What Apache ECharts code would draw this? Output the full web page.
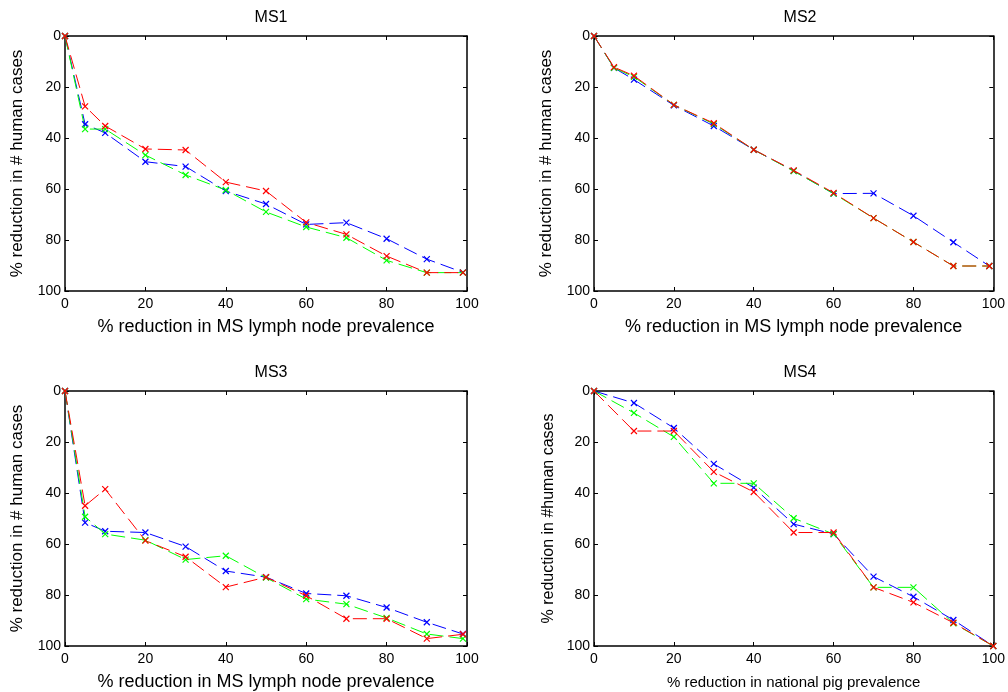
<!DOCTYPE html>
<html>
<head>
<meta charset="utf-8">
<script src="https://cdn.jsdelivr.net/npm/echarts@6/dist/echarts.min.js"></script>
<style>html,body{margin:0;padding:0;background:#fff}#c{width:1008px;height:692px}</style>
</head>
<body>
<div id="c"></div>
<script>
// x values
const xMS = [0, 5, 10, 20, 30, 40, 50, 60, 70, 80, 90, 99];
const xPig = [0, 10, 20, 30, 40, 50, 60, 70, 80, 90, 100];
const xTicks = [0, 20, 40, 60, 80, 100];
const yTicks = [0, 20, 40, 60, 80, 100];

// MS1
const ms1Blue  = [0, 34.6, 38.0, 49.3, 51.2, 60.8, 65.9, 73.9, 73.2, 79.5, 87.5, 92.7];
const ms1Green = [0, 36.5, 36.5, 46.7, 54.5, 60.4, 69.0, 74.9, 79.1, 88.0, 92.8, 92.8];
const ms1Red   = [0, 27.6, 35.3, 44.3, 44.7, 57.3, 60.8, 73.1, 77.8, 86.3, 92.8, 92.8];
// MS2
const ms2Blue  = [0, 12.5, 17.1, 27.2, 35.3, 44.6, 52.9, 61.8, 61.7, 70.5, 80.9, 90.2];
const ms2Green = [0, 12.5, 16.0, 27.0, 34.5, 44.6, 53.0, 61.8, 71.4, 80.8, 90.2, 90.2];
const ms2Red   = [0, 12.2, 15.6, 27.0, 34.2, 44.6, 52.7, 61.5, 71.4, 80.8, 90.2, 90.2];
// MS3
const ms3Blue  = [0, 51.6, 55.0, 55.5, 61.0, 70.6, 73.0, 79.4, 80.3, 84.9, 90.7, 95.3];
const ms3Green = [0, 49.3, 56.1, 58.5, 66.1, 64.6, 73.2, 81.6, 83.6, 89.0, 95.3, 97.1];
const ms3Red   = [0, 45.0, 38.5, 58.7, 65.0, 76.9, 73.0, 80.3, 89.3, 89.3, 97.1, 95.4];
// MS4
const ms4Blue  = [0, 4.7, 14.5, 28.6, 37.9, 52.2, 56.1, 72.8, 80.7, 89.8, 100];
const ms4Green = [0, 8.6, 18.0, 36.2, 36.2, 49.9, 56.1, 77.0, 77.0, 91.1, 100];
const ms4Red   = [0, 15.7, 15.7, 31.7, 39.6, 55.5, 55.5, 77.0, 82.9, 90.9, 100];

const titles = ['MS1', 'MS2', 'MS3', 'MS4'];
const xNames = ['% reduction in MS lymph node prevalence', '% reduction in MS lymph node prevalence',
                '% reduction in MS lymph node prevalence', '% reduction in national pig prevalence'];
const yNames = ['% reduction in # human cases', '% reduction in # human cases',
                '% reduction in # human cases', '% reduction in #human cases'];

const panels = [
  { x: xMS, b: ms1Blue, g: ms1Green, r: ms1Red },
  { x: xMS, b: ms2Blue, g: ms2Green, r: ms2Red },
  { x: xMS, b: ms3Blue, g: ms3Green, r: ms3Red },
  { x: xPig, b: ms4Blue, g: ms4Green, r: ms4Red }
];

const FONT = 'Liberation Sans, Arial, sans-serif';
const grids = [
  { left: 65, top: 36, width: 402, height: 255 },
  { left: 594, top: 36, width: 402, height: 255 },
  { left: 65, top: 391, width: 402, height: 255 },
  { left: 594, top: 391, width: 402, height: 255 }
];

const cross = 'path://M0,0L10,10M10,0L0,10';
const option = { animation: false, title: [], grid: [], xAxis: [], yAxis: [], series: [] };

grids.forEach((g, i) => {
  const small = i === 3;
  option.grid.push(Object.assign({ containLabel: false, show: false }, g));
  option.title.push({
    text: titles[i], left: g.left + g.width / 2, top: g.top - 31, textAlign: 'center',
    textStyle: { fontFamily: FONT, fontSize: 16, fontWeight: 'normal', color: '#000' }
  });
  const axisCommon = {
    min: 0, max: 100, interval: 20, gridIndex: i,
    axisLine: { show: true, onZero: false, lineStyle: { color: '#000', width: 1.5 } },
    axisTick: { show: true, inside: true, length: 4, lineStyle: { color: '#000' } },
    splitLine: { show: false }
  };
  option.xAxis.push(Object.assign({}, axisCommon, {
    type: 'value', position: 'bottom',
    name: xNames[i], nameLocation: 'middle', nameGap: small ? 29 : 27,
    nameTextStyle: { fontFamily: FONT, fontSize: small ? 15 : 18, color: '#000' },
    axisLabel: { fontFamily: FONT, fontSize: 14, color: '#000', margin: 6,
      customValues: xTicks }
  }));
  option.xAxis.push(Object.assign({}, axisCommon, {
    type: 'value', position: 'top', axisLabel: { show: false }
  }));
  option.yAxis.push(Object.assign({}, axisCommon, {
    type: 'value', inverse: true, position: 'left',
    name: yNames[i], nameLocation: 'middle', nameGap: small ? 37 : 39,
    nameTextStyle: { fontFamily: FONT, fontSize: small ? 16 : 17, color: '#000' },
    axisLabel: { fontFamily: FONT, fontSize: 14, color: '#000', margin: 4, customValues: yTicks }
  }));
  option.yAxis.push(Object.assign({}, axisCommon, {
    type: 'value', inverse: true, position: 'right', axisLabel: { show: false }
  }));
  const p = panels[i];
  [['#0000ff', p.b], ['#00ff00', p.g], ['#ff0000', p.r]].forEach(([col, ys]) => {
    option.series.push({
      type: 'line', xAxisIndex: i * 2, yAxisIndex: i * 2,
      data: p.x.map((x, k) => [x, ys[k]]),
      symbol: cross, symbolSize: 6, showAllSymbol: true,
      lineStyle: { color: col, width: 1, type: [14, 6] },
      itemStyle: { color: 'none', borderColor: col, borderWidth: 1.2 },
      emphasis: { disabled: true }
    });
  });
});

const chart = echarts.init(document.getElementById('c'), null, { renderer: 'canvas' });
chart.setOption(option);
</script>
</body>
</html>
